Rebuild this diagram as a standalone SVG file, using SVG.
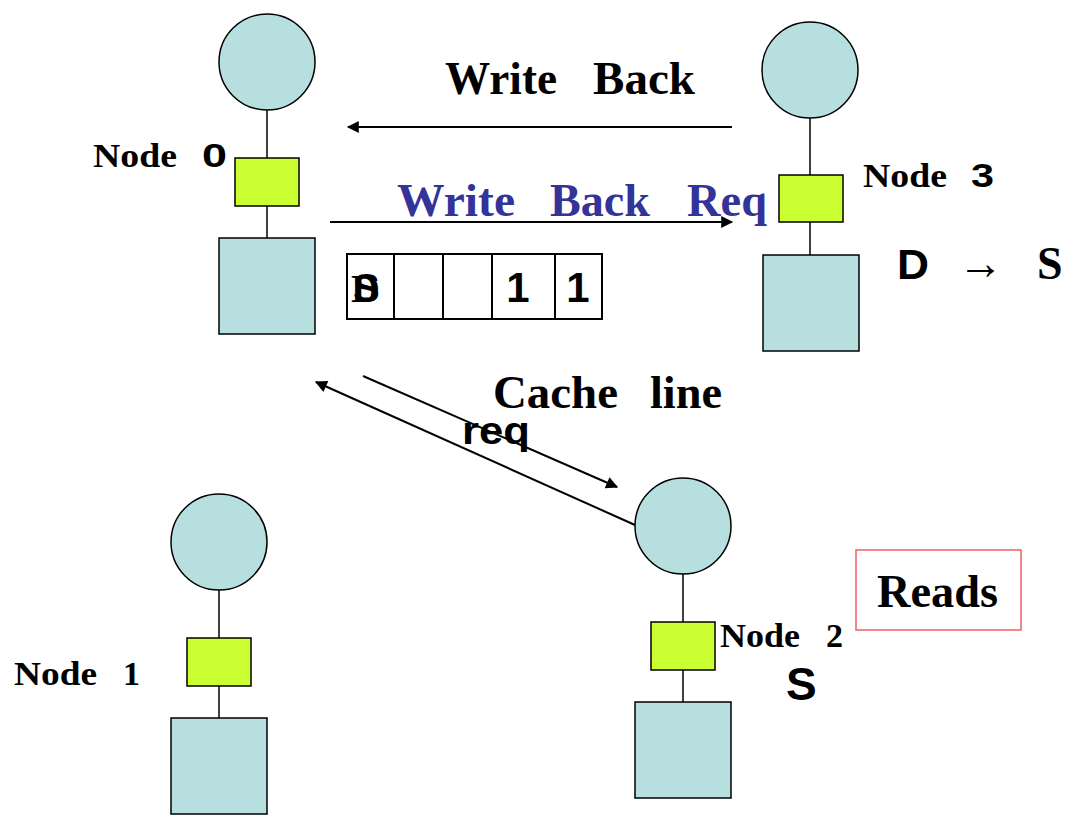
<svg xmlns="http://www.w3.org/2000/svg" width="1077" height="822" viewBox="0 0 1077 822">
<style>
.c{fill:#b8dfe0;stroke:#000;stroke-width:1.5}
.y{fill:#ccff33;stroke:#000;stroke-width:1.5}
.l{stroke:#000;stroke-width:1.5}
.a{stroke:#000;stroke-width:2;fill:none}
.sf{font-family:"Liberation Serif",serif;font-weight:bold}
.ss{font-family:"Liberation Sans",sans-serif;font-weight:bold}
.big{font-size:47px}
.nl{font-size:34px}
.cell{fill:#fff;stroke:#000;stroke-width:2}
</style>
<defs>
<marker id="ah2" viewBox="0 0 10 10" refX="9" refY="5" markerWidth="17" markerHeight="12" markerUnits="userSpaceOnUse" orient="auto"><path d="M0,0 L10,5 L0,10 z" fill="#000"/></marker>
</defs>
<g id="node0">
<line class="l" x1="267" y1="110" x2="267" y2="238"/>
<circle class="c" cx="267" cy="62" r="48"/>
<rect class="y" x="235" y="158" width="64" height="48"/>
<rect class="c" x="219" y="238" width="96" height="96"/>
<text class="sf nl" x="93" y="167" textLength="84" lengthAdjust="spacingAndGlyphs">Node</text>
<text class="ss" x="202" y="167" font-size="34" textLength="25" lengthAdjust="spacingAndGlyphs">0</text>
</g>
<g id="node3">
<line class="l" x1="810" y1="118" x2="810" y2="255"/>
<circle class="c" cx="810" cy="70" r="48"/>
<rect class="y" x="779" y="175" width="64" height="47"/>
<rect class="c" x="763" y="255" width="96" height="96"/>
<text class="sf nl" x="863" y="187" textLength="84" lengthAdjust="spacingAndGlyphs">Node</text>
<text class="ss" x="971" y="187" font-size="34" textLength="23" lengthAdjust="spacingAndGlyphs">3</text>
</g>
<g id="node2">
<line class="l" x1="683" y1="574" x2="683" y2="702"/>
<circle class="c" cx="683" cy="526" r="48"/>
<rect class="y" x="651" y="622" width="64" height="48"/>
<rect class="c" x="635" y="702" width="96" height="96"/>
<text class="sf nl" x="720" y="647" textLength="80" lengthAdjust="spacingAndGlyphs">Node</text>
<text class="sf nl" x="826" y="647">2</text>
<text class="ss" x="786" y="700" font-size="46">S</text>
</g>
<g id="node1">
<line class="l" x1="219" y1="590" x2="219" y2="718"/>
<circle class="c" cx="219" cy="542" r="48"/>
<rect class="y" x="187" y="638" width="64" height="48"/>
<rect class="c" x="171" y="718" width="96" height="96"/>
<text class="sf nl" x="14" y="685" textLength="83" lengthAdjust="spacingAndGlyphs">Node</text>
<text class="sf nl" x="123" y="685">1</text>
</g>
<g id="table">
<rect class="cell" x="347" y="254" width="47" height="65"/>
<rect class="cell" x="394" y="254" width="49" height="65"/>
<rect class="cell" x="443" y="254" width="49" height="65"/>
<rect class="cell" x="492" y="254" width="63" height="65"/>
<rect class="cell" x="555" y="254" width="47" height="65"/>
<text class="sf" x="351" y="302" font-size="40">D</text>
<text class="ss" x="353" y="302" font-size="40">S</text>
<text class="ss" x="518" y="302" font-size="42" text-anchor="middle">1</text>
<text class="ss" x="578" y="302" font-size="42" text-anchor="middle">1</text>
</g>
<g id="reads">
<rect x="856" y="550" width="165" height="80" fill="#fff" stroke="#f06060" stroke-width="1.5"/>
<text class="sf" x="877" y="607" font-size="46" textLength="121" lengthAdjust="spacingAndGlyphs">Reads</text>
</g>
<g id="state">
<text class="ss" x="897" y="279" font-size="42" textLength="32" lengthAdjust="spacingAndGlyphs">D</text>
<text class="sf" x="958" y="279" font-size="48" textLength="45" lengthAdjust="spacingAndGlyphs">→</text>
<text class="sf" x="1037" y="279" font-size="46">S</text>
</g>
<g id="connectors">
<line class="a" x1="732" y1="127" x2="348" y2="127" marker-end="url(#ah2)"/>
<line class="a" x1="330" y1="222" x2="732" y2="222" marker-end="url(#ah2)"/>
<line class="a" x1="363" y1="376" x2="617" y2="487" marker-end="url(#ah2)"/>
<line class="a" x1="635" y1="525" x2="316" y2="382" marker-end="url(#ah2)"/>
</g>
<g id="labels">
<text class="sf big" x="445" y="94" textLength="112" lengthAdjust="spacingAndGlyphs">Write</text>
<text class="sf big" x="593" y="94" textLength="102" lengthAdjust="spacingAndGlyphs">Back</text>
<text class="sf big" x="397" y="216" fill="#333399" textLength="118" lengthAdjust="spacingAndGlyphs">Write</text>
<text class="sf big" x="550" y="216" fill="#333399" textLength="100" lengthAdjust="spacingAndGlyphs">Back</text>
<text class="sf big" x="687" y="216" fill="#333399" textLength="80" lengthAdjust="spacingAndGlyphs">Req</text>
<text class="sf big" x="493" y="408" textLength="125" lengthAdjust="spacingAndGlyphs">Cache</text>
<text class="sf big" x="650" y="408" textLength="72" lengthAdjust="spacingAndGlyphs">line</text>
<text class="ss" x="462" y="444" font-size="38" textLength="68" lengthAdjust="spacingAndGlyphs">req</text>
</g>
</svg>
